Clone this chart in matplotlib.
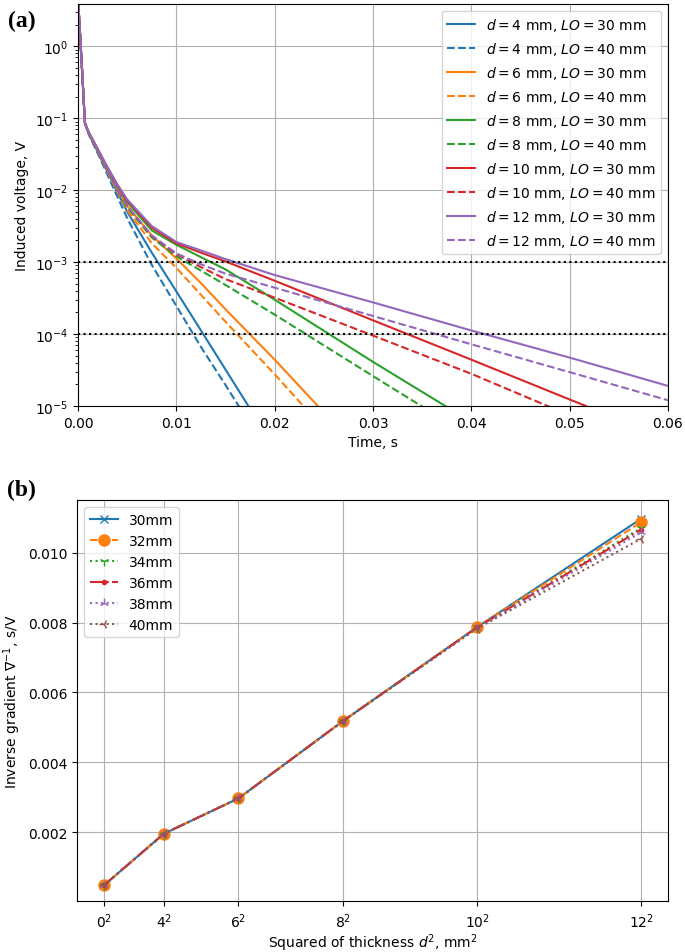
import matplotlib.pyplot as plt
import numpy as np

nan = np.nan

# ---- panel (a): induced voltage decay ----
time_s = [0, 0.0003, 0.0007, 0.0011, 0.002, 0.003, 0.004, 0.005, 0.0075,
          0.01, 0.0125, 0.015, 0.02, 0.03, 0.04, 0.05, 0.06]

v_d4_lo30 = [4.5, 0.85, 0.085, 0.0603, 0.0339, 0.0178, 9.3e-3, 5.0e-3, 1.35e-3,
             3.9e-4, 1.12e-4, 3.2e-5, 2.6e-6, nan, nan, nan, nan]
v_d4_lo40 = [4.5, 0.85, 0.085, 0.0589, 0.0324, 0.0162, 8.1e-3, 4.07e-3, 9.1e-4,
             2.45e-4, 6.6e-5, 1.95e-5, 1.6e-6, nan, nan, nan, nan]
v_d6_lo30 = [4.5, 0.85, 0.085, 0.0617, 0.0355, 0.0191, 0.0105, 6.0e-3, 2.34e-3,
             1.12e-3, 5.1e-4, 2.2e-4, 4.4e-5, 1.5e-6, nan, nan, nan]
v_d6_lo40 = [4.5, 0.85, 0.085, 0.0603, 0.0339, 0.0178, 9.5e-3, 5.25e-3, 1.82e-3,
             8.3e-4, 3.5e-4, 1.48e-4, 2.75e-5, 8.5e-7, nan, nan, nan]
v_d8_lo30 = [4.5, 0.85, 0.085, 0.0617, 0.0363, 0.0200, 0.0112, 6.8e-3, 2.75e-3,
             1.74e-3, 1.17e-3, 7.9e-4, 3.0e-4, 4.1e-5, 6.0e-6, nan, nan]
v_d8_lo40 = [4.5, 0.85, 0.085, 0.0603, 0.0347, 0.0186, 0.0102, 5.75e-3, 2.19e-3,
             1.2e-3, 7.6e-4, 4.8e-4, 1.86e-4, 2.6e-5, 3.7e-6, nan, nan]
v_d10_lo30 = [4.5, 0.85, 0.085, 0.0631, 0.0372, 0.0204, 0.0117, 7.2e-3, 3.0e-3,
              1.82e-3, 1.35e-3, 1.02e-3, 5.5e-4, 1.55e-4, 4.4e-5, 1.23e-5, 3.5e-6]
v_d10_lo40 = [4.5, 0.85, 0.085, 0.0617, 0.0355, 0.0191, 0.0105, 6.0e-3, 2.29e-3,
              1.29e-3, 8.5e-4, 5.8e-4, 3.2e-4, 9.5e-5, 2.8e-5, 7.4e-6, 2.0e-6]
v_d12_lo30 = [4.5, 0.85, 0.085, 0.0631, 0.0372, 0.0209, 0.0120, 7.4e-3, 3.16e-3,
              1.9e-3, 1.45e-3, 1.1e-3, 6.6e-4, 2.75e-4, 1.12e-4, 4.7e-5, 1.9e-5]
v_d12_lo40 = [4.5, 0.85, 0.085, 0.0617, 0.0355, 0.0191, 0.0105, 6.0e-3, 2.34e-3,
              1.32e-3, 9.3e-4, 6.9e-4, 4.4e-4, 1.78e-4, 7.2e-5, 2.95e-5, 1.2e-5]

thickness_mm = [4, 6, 8, 10, 12]
curves_lo30 = [v_d4_lo30, v_d6_lo30, v_d8_lo30, v_d10_lo30, v_d12_lo30]
curves_lo40 = [v_d4_lo40, v_d6_lo40, v_d8_lo40, v_d10_lo40, v_d12_lo40]
threshold_levels = [1e-3, 1e-4]

# ---- panel (b): inverse gradient vs d^2 ----
d_sq = [0, 16, 36, 64, 100, 144]
d_sq_labels = ['$0^2$', '$4^2$', '$6^2$', '$8^2$', '$10^2$', '$12^2$']
lo_labels = ['30mm', '32mm', '34mm', '36mm', '38mm', '40mm']
inv_grad = [
    [0.00049, 0.00196, 0.00297, 0.00518, 0.00787, 0.01097],
    [0.00049, 0.00196, 0.00297, 0.00518, 0.00787, 0.01087],
    [0.00049, 0.00196, 0.00297, 0.00518, 0.00786, 0.01071],
    [0.00049, 0.00196, 0.00297, 0.00518, 0.00786, 0.01066],
    [0.00049, 0.00196, 0.00297, 0.00518, 0.00785, 0.01058],
    [0.00049, 0.00196, 0.00297, 0.00518, 0.00783, 0.01040],
]

plt.rcParams['font.size'] = 10

fig = plt.figure(figsize=(6.85, 9.53), dpi=100)
ax1 = fig.add_axes([0.114, 0.573, 0.861, 0.422])
ax2 = fig.add_axes([0.113, 0.053, 0.862, 0.421])

colors = ['tab:blue', 'tab:orange', 'tab:green', 'tab:red', 'tab:purple']
for d, c, v30, v40 in zip(thickness_mm, colors, curves_lo30, curves_lo40):
    ax1.plot(time_s, v30, '-', color=c, lw=1.5,
             label=r'$d = %d$ mm, $LO = 30$ mm' % d)
    ax1.plot(time_s, v40, '--', color=c, lw=1.5,
             label=r'$d = %d$ mm, $LO = 40$ mm' % d)
for lev in threshold_levels:
    ax1.axhline(lev, color='k', ls=':', lw=1.5)

ax1.set_yscale('log')
ax1.set_xlim(0, 0.06)
ax1.set_ylim(1e-5, 3.9)
ax1.grid(True)
ax1.set_xlabel('Time, s')
ax1.set_ylabel('Induced voltage, V')
ax1.legend(loc='upper right')

styles = [('x', '-', 6), ('o', '--', 8), ('1', ':', 7),
          ('.', '-.', 6), ('2', ':', 7), ('3', ':', 7)]
for lab, vals, (m, ls, ms) in zip(lo_labels, inv_grad, styles):
    ax2.plot(d_sq, vals, marker=m, ls=ls, ms=ms, lw=1.5, label=lab)
ax2.set_xticks(d_sq)
ax2.set_xticklabels(d_sq_labels)
ax2.set_ylim(0.00002, 0.0115)
ax2.grid(True)
ax2.set_xlabel('Squared of thickness $d^2$, mm$^2$', labelpad=1)
ax2.set_ylabel(r'Inverse gradient $\nabla^{-1}$, s/V')
ax2.legend(loc='upper left')

fig.text(0.012, 0.977, '(a)', fontsize=17, fontweight='bold',
         family='Liberation Serif', va='center')
fig.text(0.010, 0.485, '(b)', fontsize=17, fontweight='bold',
         family='Liberation Serif', va='center')

fig.savefig('out.png', dpi=100)
